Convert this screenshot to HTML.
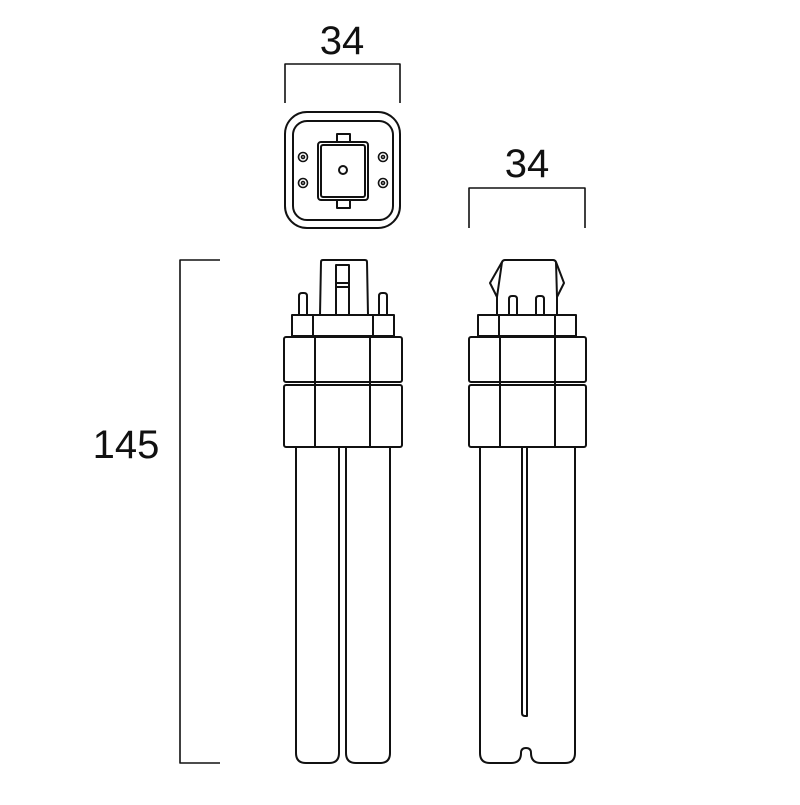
<!DOCTYPE html>
<html><head><meta charset="utf-8"><style>html,body{margin:0;padding:0;background:#fff}</style></head>
<body>
<svg width="800" height="800" viewBox="0 0 800 800" xmlns="http://www.w3.org/2000/svg" fill="none" stroke="#111" stroke-width="2" stroke-linejoin="round">
<g font-family="Liberation Sans, sans-serif" font-size="40" fill="#111" stroke="none">
<text x="342" y="54" text-anchor="middle">34</text>
<text x="527" y="177" text-anchor="middle">34</text>
<text x="126" y="458" text-anchor="middle">145</text>
</g>
<g stroke-width="1.6">
<path d="M285 103V64H400V103"/>
<path d="M469 228V188H585V228"/>
<path d="M220 260H180V763H220"/>
</g>
<!-- top view -->
<rect x="285" y="112" width="115" height="116" rx="22"/>
<rect x="293" y="121" width="100" height="99" rx="14"/>
<rect x="337" y="134" width="13" height="8"/>
<rect x="337" y="200" width="13" height="8"/>
<rect x="318" y="142" width="50" height="58" rx="3"/>
<rect x="321" y="145" width="44" height="52" rx="2"/>
<circle cx="343" cy="170" r="4"/>
<g stroke-width="1.6">
<circle cx="303" cy="157" r="4.5"/><circle cx="303" cy="157" r="1.5"/>
<circle cx="303" cy="183" r="4.5"/><circle cx="303" cy="183" r="1.5"/>
<circle cx="383" cy="157" r="4.5"/><circle cx="383" cy="157" r="1.5"/>
<circle cx="383" cy="183" r="4.5"/><circle cx="383" cy="183" r="1.5"/>
</g>
<!-- left lamp -->
<path d="M320 315L321 262Q321 260 323 260H365Q367 260 367 262L368 315"/>
<rect x="336" y="265" width="13" height="50"/>
<path d="M336 283H349M336 287H349"/>
<path d="M299 315V296Q299 293 302 293H304Q307 293 307 296V315"/>
<path d="M379 315V296Q379 293 382 293H384Q387 293 387 296V315"/>
<rect x="292" y="315" width="102" height="21"/>
<path d="M313 315V336M373 315V336"/>
<rect x="284" y="337" width="118" height="45" rx="2"/>
<rect x="284" y="385" width="118" height="62" rx="2"/>
<path d="M315 337V447M370 337V447"/>
<path d="M296 447V753Q296 763 306 763H329Q339 763 339 753V447"/>
<path d="M346 447V753Q346 763 356 763H380Q390 763 390 753V447"/>
<!-- right lamp -->
<path d="M497 315V297L490 283L502 262Q503 260 505 260H553Q555 260 556 262L564 283L557 297V315"/>
<path d="M502 262L497 297M556 262L557 297"/>
<path d="M509 315V299Q509 296 512 296H514Q517 296 517 299V315"/>
<path d="M536 315V299Q536 296 539 296H541Q544 296 544 299V315"/>
<rect x="478" y="315" width="98" height="21"/>
<path d="M499 315V336M555 315V336"/>
<rect x="469" y="337" width="117" height="45" rx="2"/>
<rect x="469" y="385" width="117" height="62" rx="2"/>
<path d="M500 337V447M555 337V447"/>
<path d="M480 447V753Q480 763 490 763H511Q521 763 521 753Q521 748 526 748Q531 748 531 753Q531 763 541 763H565Q575 763 575 753V447"/>
<path d="M522 447V713Q522 716 525 716H527V447"/>
</svg>
</body></html>
